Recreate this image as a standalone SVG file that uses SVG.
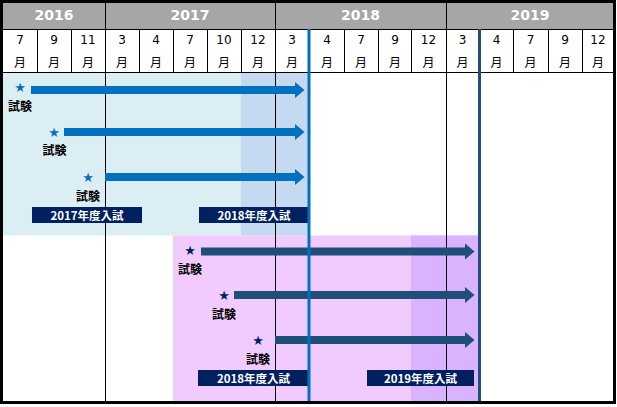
<svg xmlns="http://www.w3.org/2000/svg" width="617" height="407" viewBox="0 0 617 407">
<style>
.yr{font-family:"DejaVu Sans",sans-serif;font-weight:bold;font-size:14px;fill:#fff;text-anchor:middle}
.mn{font-family:"DejaVu Sans",sans-serif;font-size:12px;fill:#000;text-anchor:middle}
.mj{font-family:"Noto Sans CJK JP",sans-serif;font-size:12px;fill:#000;text-anchor:middle}
.g{stroke:#000;stroke-width:1;fill:none}
.st1{font-family:"DejaVu Sans",sans-serif;font-size:13px;fill:#0070C0;text-anchor:middle}
.st2{font-family:"DejaVu Sans",sans-serif;font-size:13px;fill:#002060;text-anchor:middle}
.sk{font-family:"Noto Sans CJK JP",sans-serif;font-weight:bold;font-size:12px;fill:#000;text-anchor:middle}
.lb rect{fill:#002060}
.lb text{font-family:"Noto Sans CJK JP",sans-serif;font-weight:bold;font-size:11.5px;fill:#fff;text-anchor:middle}
.a1{fill:#0070C0}
.a2{fill:#1F4E79}
</style>
<rect x="0" y="0" width="617" height="407" fill="#fff"/>
<g id="background">
<rect x="3" y="3" width="611" height="26" fill="#A6A6A6"/>
<rect x="3" y="72" width="306" height="163.5" fill="#DAEEF3"/>
<rect x="241" y="72" width="68" height="163.5" fill="#C5D9F1"/>
<rect x="173" y="235.5" width="306" height="167" fill="#F2CBFE"/>
<rect x="411" y="235.5" width="68" height="167" fill="#D9B3FE"/>
</g>
<g id="header">
<text class="yr" x="54" y="19.5">2016</text>
<text class="yr" x="190" y="19.5">2017</text>
<text class="yr" x="360.5" y="19.5">2018</text>
<text class="yr" x="530" y="19.5">2019</text>
<g>
<text class="mn" x="20" y="44">7</text><text class="mj" x="20" y="66.5">月</text>
<text class="mn" x="54" y="44">9</text><text class="mj" x="54" y="66.5">月</text>
<text class="mn" x="88" y="44">11</text><text class="mj" x="88" y="66.5">月</text>
<text class="mn" x="122" y="44">3</text><text class="mj" x="122" y="66.5">月</text>
<text class="mn" x="156" y="44">4</text><text class="mj" x="156" y="66.5">月</text>
<text class="mn" x="190" y="44">7</text><text class="mj" x="190" y="66.5">月</text>
<text class="mn" x="224" y="44">10</text><text class="mj" x="224" y="66.5">月</text>
<text class="mn" x="258" y="44">12</text><text class="mj" x="258" y="66.5">月</text>
<text class="mn" x="292" y="44">3</text><text class="mj" x="292" y="66.5">月</text>
<text class="mn" x="327" y="44">4</text><text class="mj" x="327" y="66.5">月</text>
<text class="mn" x="361" y="44">7</text><text class="mj" x="361" y="66.5">月</text>
<text class="mn" x="395" y="44">9</text><text class="mj" x="395" y="66.5">月</text>
<text class="mn" x="428.5" y="44">12</text><text class="mj" x="428.5" y="66.5">月</text>
<text class="mn" x="462.5" y="44">3</text><text class="mj" x="462.5" y="66.5">月</text>
<text class="mn" x="496.5" y="44">4</text><text class="mj" x="496.5" y="66.5">月</text>
<text class="mn" x="530.5" y="44">7</text><text class="mj" x="530.5" y="66.5">月</text>
<text class="mn" x="565" y="44">9</text><text class="mj" x="565" y="66.5">月</text>
<text class="mn" x="598" y="44">12</text><text class="mj" x="598" y="66.5">月</text>
</g>
</g>
<g id="grid">
<path class="g" d="M3 29.5H614M3 72.5H614"/>
<path class="g" d="M105.5 3V29M275.5 3V29M446.5 3V29"/>
<path class="g" d="M37.5 29V72M71.5 29V72M139.5 29V72M173.5 29V72M207.5 29V72M241.5 29V72M344.5 29V72M378.5 29V72M411.5 29V72M513.5 29V72M548.5 29V72M582.5 29V72"/>
<path class="g" d="M105.5 29V402M275.5 29V402M446.5 29V402"/>
</g>
<g id="labels">
<g id="label-2017-top" class="lb"><rect x="32" y="207" width="110" height="16"/><text x="87" y="219.5">2017年度入試</text></g>
<g id="label-2018-top" class="lb"><rect x="199" y="207" width="110" height="16"/><text x="254" y="219.5">2018年度入試</text></g>
<g id="label-2018-bot" class="lb"><rect x="198" y="370" width="111" height="16"/><text x="253.5" y="382.5">2018年度入試</text></g>
<g id="label-2019-bot" class="lb"><rect x="367" y="370" width="107" height="16"/><text x="420.5" y="382.5">2019年度入試</text></g>
</g>
<g id="connectors">
<path class="a1" d="M31 86H295V82L304.5 90L295 98V94H31Z"/>
<path class="a1" d="M64 128H295V124L304.5 132L295 140V136H64Z"/>
<path class="a1" d="M105 173H295V169L304.5 177L295 185V181H105Z"/>
<path class="a2" d="M201 247.5H465V243.5L474.5 251.5L465 259.5V255.5H201Z"/>
<path class="a2" d="M234 291H465V287L474.5 295L465 303V299H234Z"/>
<path class="a2" d="M275 336H465V332L474.5 340L465 348V344H275Z"/>
</g>
<g id="exam-top-1"><text class="st1" x="20" y="92">★</text><text class="sk" x="20" y="111">試験</text></g>
<g id="exam-top-2"><text class="st1" x="54" y="136.5">★</text><text class="sk" x="54.5" y="155">試験</text></g>
<g id="exam-top-3"><text class="st1" x="88" y="181.5">★</text><text class="sk" x="88" y="201">試験</text></g>
<g id="exam-bot-1"><text class="st2" x="190" y="255">★</text><text class="sk" x="190" y="274">試験</text></g>
<g id="exam-bot-2"><text class="st2" x="224" y="300">★</text><text class="sk" x="224" y="319">試験</text></g>
<g id="exam-bot-3"><text class="st2" x="258" y="345">★</text><text class="sk" x="258" y="364">試験</text></g>
<g id="markers">
<path d="M309 29V402" stroke="#0070C0" stroke-width="3"/>
<path d="M479.5 29V402" stroke="#1F4E79" stroke-width="3"/>
</g>
<rect x="1.5" y="1.5" width="613" height="401" fill="none" stroke="#000" stroke-width="3"/>
</svg>
